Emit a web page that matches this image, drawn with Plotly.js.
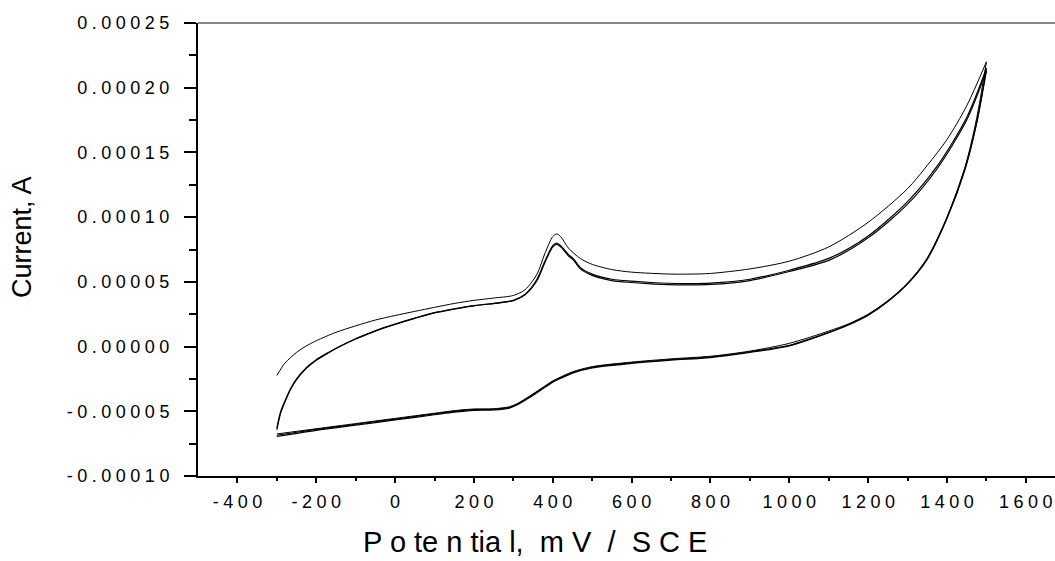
<!DOCTYPE html>
<html>
<head>
<meta charset="utf-8">
<script src="https://cdn.plot.ly/plotly-3.0.1.min.js"></script>
<style>html,body{margin:0;padding:0;background:#fff;}#chart{width:1055px;height:561px;}</style>
</head>
<body>
<div id="chart"></div>
<script>
// Cycle 1 forward scan (thin, upper)
const fwd1E = [-300, -280, -250, -228, -200, -150, -100, -50, 0, 50, 100, 150, 200, 250, 300, 330, 360, 380, 400, 410, 420, 440, 470, 500, 550, 600, 700, 750, 800, 900, 1000, 1100, 1200, 1300, 1350, 1400, 1450, 1500];
const fwd1I = [-2.24e-5, -1.3e-5, -4.5e-6, 0, 4.5e-6, 1.1e-5, 1.6e-5, 2.05e-5, 2.4e-5, 2.72e-5, 3.03e-5, 3.33e-5, 3.57e-5, 3.75e-5, 3.95e-5, 4.4e-5, 5.6e-5, 7.2e-5, 8.5e-5, 8.7e-5, 8.5e-5, 7.6e-5, 6.8e-5, 6.35e-5, 5.95e-5, 5.75e-5, 5.6e-5, 5.6e-5, 5.65e-5, 6.0e-5, 6.6e-5, 7.7e-5, 9.6e-5, 1.22e-4, 1.4e-4, 1.6e-4, 1.86e-4, 2.2e-4];

// Cycles 2 and 3 forward scan (overlapping, lower)
const fwdE = [-300, -290, -275, -266, -250, -224, -200, -170, -140, -100, -60, -30, 0, 50, 97, 150, 200, 266, 300, 330, 360, 380, 400, 410, 420, 440, 452, 470, 500, 550, 600, 650, 731, 800, 900, 1000, 1103, 1200, 1300, 1374, 1450, 1500];
const fwd2I = [-6.44e-5, -5.1e-5, -3.95e-5, -3.35e-5, -2.55e-5, -1.65e-5, -1.05e-5, -5.0e-6, 0, 5.8e-6, 1.08e-5, 1.42e-5, 1.72e-5, 2.18e-5, 2.58e-5, 2.9e-5, 3.15e-5, 3.38e-5, 3.55e-5, 4.0e-5, 5.1e-5, 6.5e-5, 7.7e-5, 7.9e-5, 7.7e-5, 7.0e-5, 6.7e-5, 6.0e-5, 5.5e-5, 5.1e-5, 4.95e-5, 4.85e-5, 4.77e-5, 4.8e-5, 5.1e-5, 5.8e-5, 6.7e-5, 8.4e-5, 1.1e-4, 1.37e-4, 1.75e-4, 2.13e-4];
const fwd3I = [-6.3e-5, -5.0e-5, -3.9e-5, -3.3e-5, -2.5e-5, -1.6e-5, -1.02e-5, -4.7e-6, 3e-7, 6.1e-6, 1.1e-5, 1.44e-5, 1.74e-5, 2.2e-5, 2.6e-5, 2.92e-5, 3.17e-5, 3.4e-5, 3.57e-5, 4.05e-5, 5.2e-5, 6.6e-5, 7.8e-5, 8.0e-5, 7.8e-5, 7.1e-5, 6.8e-5, 6.1e-5, 5.6e-5, 5.2e-5, 5.05e-5, 4.95e-5, 4.87e-5, 4.9e-5, 5.2e-5, 5.9e-5, 6.85e-5, 8.55e-5, 1.12e-4, 1.39e-4, 1.77e-4, 2.15e-4];

// Reverse scans (all three cycles nearly coincide)
const revE = [1500, 1475, 1446, 1400, 1349, 1300, 1250, 1200, 1150, 1100, 1000, 900, 800, 700, 600, 500, 450, 420, 400, 370, 340, 310, 290, 250, 200, 150, 100, 0, -100, -200, -300];
const rev1I = [2.2e-4, 1.76e-4, 1.39e-4, 1.0e-4, 6.8e-5, 4.9e-5, 3.55e-5, 2.5e-5, 1.75e-5, 1.2e-5, 2.5e-6, -3.5e-6, -7.5e-6, -9.5e-6, -1.2e-5, -1.55e-5, -1.95e-5, -2.35e-5, -2.65e-5, -3.25e-5, -3.85e-5, -4.4e-5, -4.65e-5, -4.8e-5, -4.82e-5, -4.95e-5, -5.15e-5, -5.55e-5, -5.95e-5, -6.35e-5, -6.75e-5];
const rev2I = [2.13e-4, 1.72e-4, 1.37e-4, 9.9e-5, 6.7e-5, 4.85e-5, 3.5e-5, 2.45e-5, 1.7e-5, 1.1e-5, 1e-6, -4e-6, -8e-6, -1.0e-5, -1.25e-5, -1.6e-5, -2.0e-5, -2.4e-5, -2.7e-5, -3.3e-5, -3.9e-5, -4.45e-5, -4.7e-5, -4.85e-5, -4.87e-5, -5.0e-5, -5.2e-5, -5.6e-5, -6.0e-5, -6.4e-5, -6.85e-5];
const rev3I = [2.15e-4, 1.73e-4, 1.38e-4, 9.95e-5, 6.75e-5, 4.87e-5, 3.48e-5, 2.43e-5, 1.67e-5, 1.07e-5, 5e-7, -4.5e-6, -8.5e-6, -1.05e-5, -1.3e-5, -1.65e-5, -2.05e-5, -2.45e-5, -2.75e-5, -3.35e-5, -3.95e-5, -4.5e-5, -4.75e-5, -4.9e-5, -4.93e-5, -5.07e-5, -5.27e-5, -5.67e-5, -6.07e-5, -6.47e-5, -6.95e-5];

// Axis ticks
const xTickVals = [-400, -200, 0, 200, 400, 600, 800, 1000, 1200, 1400, 1600];
const xTickText = ["-400", "-200", "0", "200", "400", "600", "800", "1000", "1200", "1400", "1600"];
const xMinorVals = [-300, -100, 100, 300, 500, 700, 900, 1100, 1300, 1500];
const yTickVals = [0.00025, 0.0002, 0.00015, 0.0001, 0.00005, 0, -0.00005, -0.0001];
const yTickText = ["0.00025", "0.00020", "0.00015", "0.00010", "0.00005", "0.00000", "-0.00005", "-0.00010"];
const yMinorVals = [0.000225, 0.000175, 0.000125, 0.000075, 0.000025, -0.000025, -0.000075];

const SP = "\u2005";
const spaced = s => s.split("").join(SP);

const FONT = "Liberation Sans, Arial, sans-serif";

function tr(x, y, w) {
  return {x: x, y: y, type: "scatter", mode: "lines", hoverinfo: "skip",
          line: {color: "#000", width: w, shape: "spline", smoothing: 0.8}};
}

const data = [
  tr(fwd1E, fwd1I, 1),
  tr(revE, rev1I, 1),
  tr(fwdE, fwd2I, 1.2),
  tr(revE, rev2I, 1.2),
  tr(fwdE, fwd3I, 1.2),
  tr(revE, rev3I, 1.2)
];

const NB = "\u00a0";
const layout = {
  width: 1055, height: 561,
  margin: {l: 198, r: 0, t: 23, b: 85, pad: 0},
  paper_bgcolor: "#fff", plot_bgcolor: "#fff",
  showlegend: false,
  font: {family: FONT, color: "#000", size: 18},
  xaxis: {
    range: [-500, 1674], showgrid: false, zeroline: false,
    showline: true, linecolor: "#000", linewidth: 2,
    ticks: "outside", ticklen: 5, tickwidth: 2, tickcolor: "#000",
    tickmode: "array", tickvals: xTickVals, ticktext: xTickText.map(spaced),
    tickfont: {family: FONT, size: 18, color: "#000"},
    ticklabelstandoff: 3,
    minor: {tickmode: "array", tickvals: xMinorVals, ticks: "outside", ticklen: 3, tickwidth: 2, tickcolor: "#000", showgrid: false}
  },
  yaxis: {
    range: [-0.0001, 0.00025], showgrid: false, zeroline: false,
    showline: true, linecolor: "#000", linewidth: 2,
    ticks: "outside", ticklen: 12, tickwidth: 2, tickcolor: "#000",
    tickmode: "array", tickvals: yTickVals, ticktext: yTickText.map(spaced),
    tickfont: {family: FONT, size: 18, color: "#000"},
    ticklabelstandoff: 11,
    minor: {tickmode: "array", tickvals: yMinorVals, ticks: "outside", ticklen: 7, tickwidth: 2, tickcolor: "#000", showgrid: false}
  },
  shapes: [
    {type: "line", xref: "paper", yref: "paper", x0: 0, x1: 1, y0: 1, y1: 1,
     line: {color: "#888", width: 2}}
  ],
  annotations: [
    {text: "Current, A", xref: "paper", yref: "paper", x: -0.2054, y: 0.5276,
     xanchor: "center", yanchor: "middle", textangle: -90, showarrow: false,
     font: {family: FONT, size: 27, color: "#000"}},
    {text: "P o te n tia l," + NB + NB + "m V" + NB + NB + "/" + NB + NB + "S C E", xref: "paper", yref: "paper",
     x: 0.3932, y: -0.185, xanchor: "center", yanchor: "bottom", showarrow: false,
     font: {family: FONT, size: 29, color: "#000"}}
  ]
};

Plotly.newPlot("chart", data, layout, {staticPlot: true, displayModeBar: false});
</script>
</body>
</html>
